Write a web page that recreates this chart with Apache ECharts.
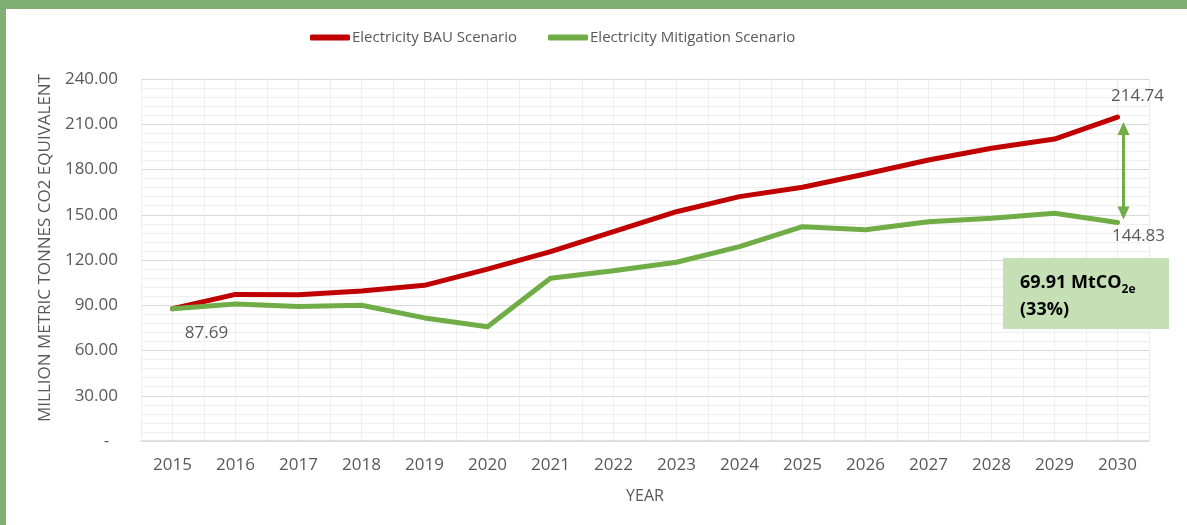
<!DOCTYPE html>
<html>
<head>
<meta charset="utf-8">
<script src="https://cdn.jsdelivr.net/npm/echarts@6/dist/echarts.min.js"></script>
<style>
  html, body { margin:0; padding:0; width:1187px; height:525px; overflow:hidden; background:#82b074; }
  #frame { position:absolute; left:6px; top:9px; width:1181px; height:516px; background:#fff; }
  #chart { position:absolute; left:0; top:0; width:1187px; height:525px; }
</style>
</head>
<body>
<div id="frame"></div>
<div id="chart"></div>
<script>
var years = ['2015','2016','2017','2018','2019','2020','2021','2022','2023','2024','2025','2026','2027','2028','2029','2030'];
var bauValues = [87.69, 97.2, 97.0, 99.4, 103.2, 113.9, 125.5, 138.8, 152.0, 162.0, 168.2, 177.0, 186.3, 194.1, 200.2, 214.74];
var mitigationValues = [87.69, 90.8, 89.1, 90.0, 81.6, 75.8, 107.9, 112.9, 118.5, 128.9, 142.1, 140.0, 145.4, 147.7, 151.0, 144.83];
var yTicks = [0, 30, 60, 90, 120, 150, 180, 210, 240];
var seriesNames = ['Electricity BAU Scenario', 'Electricity Mitigation Scenario'];
var yAxisTitle = 'MILLION METRIC TONNES CO2 EQUIVALENT';
var xAxisTitle = 'YEAR';

var RED = '#c00000', GREEN = '#70ad47', TXT = '#595959';
var FONT = '"Open Sans", "Noto Sans", sans-serif';

var chart = echarts.init(document.getElementById('chart'), null, {renderer:'canvas'});

var last = years.length - 1;
function fmt(p) { return Number(p.value).toFixed(2); }
var bauData = bauValues.map(function (v, i) {
  if (i === last) return {value: v, label: {show: true, position: 'top', offset: [20, -7], formatter: fmt}};
  return v;
});
var mitData = mitigationValues.map(function (v, i) {
  if (i === last) return {value: v, label: {show: true, position: 'bottom', offset: [21, 0], formatter: fmt}};
  if (i === 0) return {value: v, label: {show: true, position: 'bottom', offset: [34, 10], formatter: fmt}};
  return v;
});

var labelStyle = {show: false, color: TXT, fontFamily: FONT, fontSize: 17};

chart.setOption({
  animation: false,
  textStyle: {fontFamily: FONT},
  legend: {
    left: 305, top: 25,
    itemWidth: 40, itemHeight: 6, itemGap: 31,
    icon: 'roundRect',
    textStyle: {color: TXT, fontFamily: FONT, fontSize: 15, padding: [0, 0, 0, -3]},
    data: seriesNames
  },
  grid: {left: 141, right: 38, top: 79, bottom: 84},
  xAxis: [{
    type: 'category',
    data: years,
    boundaryGap: true,
    axisLine: {show: true, lineStyle: {color: '#d9d9d9', width: 1.5}},
    axisTick: {show: false},
    axisLabel: {color: TXT, fontFamily: FONT, fontSize: 17, margin: 16},
    splitLine: {show: false},
    name: xAxisTitle,
    nameLocation: 'middle',
    nameGap: 47,
    nameTextStyle: {color: TXT, fontFamily: FONT, fontSize: 16}
  }, {
    type: 'value',
    min: 0, max: years.length, interval: 0.5,
    position: 'top',
    axisLine: {show: false}, axisTick: {show: false}, axisLabel: {show: false},
    splitLine: {show: true, lineStyle: {color: '#efefef', width: 1}}
  }],
  yAxis: {
    type: 'value',
    min: 0, max: 240, interval: 30,
    axisLine: {show: false},
    axisTick: {show: false},
    axisLabel: {
      color: TXT, fontFamily: FONT, fontSize: 17, margin: 23,
      formatter: function (v) { return v === 0 ? '-  ' : v.toFixed(2); }
    },
    splitLine: {show: true, lineStyle: {color: '#d9d9d9', width: 1.2}},
    minorTick: {show: false, splitNumber: 5},
    minorSplitLine: {show: true, lineStyle: {color: '#efefef', width: 1}}
  },
  series: [{
    name: seriesNames[0],
    type: 'line',
    data: bauData,
    xAxisIndex: 0,
    symbol: 'circle',
    symbolSize: 1,
    showSymbol: true,
    lineStyle: {color: RED, width: 5, cap: 'round', join: 'round'},
    itemStyle: {color: RED},
    label: labelStyle,
    z: 3
  }, {
    name: seriesNames[1],
    type: 'line',
    data: mitData,
    xAxisIndex: 0,
    symbol: 'circle',
    symbolSize: 1,
    showSymbol: true,
    lineStyle: {color: GREEN, width: 5, cap: 'round', join: 'round'},
    itemStyle: {color: GREEN},
    label: labelStyle,
    z: 4
  }]
});

// Annotations derived from data via the chart's scales
var topPt = chart.convertToPixel({xAxisIndex: 0, yAxisIndex: 0}, [years[last], bauValues[last]]);
var botPt = chart.convertToPixel({xAxisIndex: 0, yAxisIndex: 0}, [years[last], mitigationValues[last]]);
var ax = topPt[0] + 6;
var y1 = topPt[1] + 5, y2 = botPt[1] - 3;
var diff = bauValues[last] - mitigationValues[last];
var pct = Math.round(diff / bauValues[last] * 100);

chart.setOption({
  graphic: [
    {type: 'line', shape: {x1: ax, y1: y1 + 10, x2: ax, y2: y2 - 10}, style: {stroke: GREEN, lineWidth: 3}, z: 10},
    {type: 'polygon', shape: {points: [[ax, y1], [ax - 6, y1 + 13], [ax + 6, y1 + 13]]}, style: {fill: GREEN}, z: 10},
    {type: 'polygon', shape: {points: [[ax, y2], [ax - 6, y2 - 13], [ax + 6, y2 - 13]]}, style: {fill: GREEN}, z: 10},
    {type: 'rect', shape: {x: 1003, y: 258, width: 166, height: 71}, style: {fill: '#c5e0b4'}, z: 9},
    {type: 'text', x: 1020, y: 296, z: 11,
      style: {
        text: '{a|' + diff.toFixed(2) + ' MtCO}{s|2e}\n{a|(' + pct + '%)}',
        verticalAlign: 'middle',
        rich: {
          a: {fontFamily: FONT, fontWeight: 'bold', fontSize: 18, fill: '#000', lineHeight: 27},
          s: {fontFamily: FONT, fontWeight: 'bold', fontSize: 12, fill: '#000', lineHeight: 27, verticalAlign: 'bottom', padding: [6, 0, 0, 0]}
        }
      }
    },
    {type: 'text', x: 45, y: 248, rotation: Math.PI / 2, z: 11,
      style: {text: yAxisTitle, fill: TXT, fontFamily: FONT, fontSize: 17, align: 'center', verticalAlign: 'middle'}
    }
  ]
});
</script>
</body>
</html>
